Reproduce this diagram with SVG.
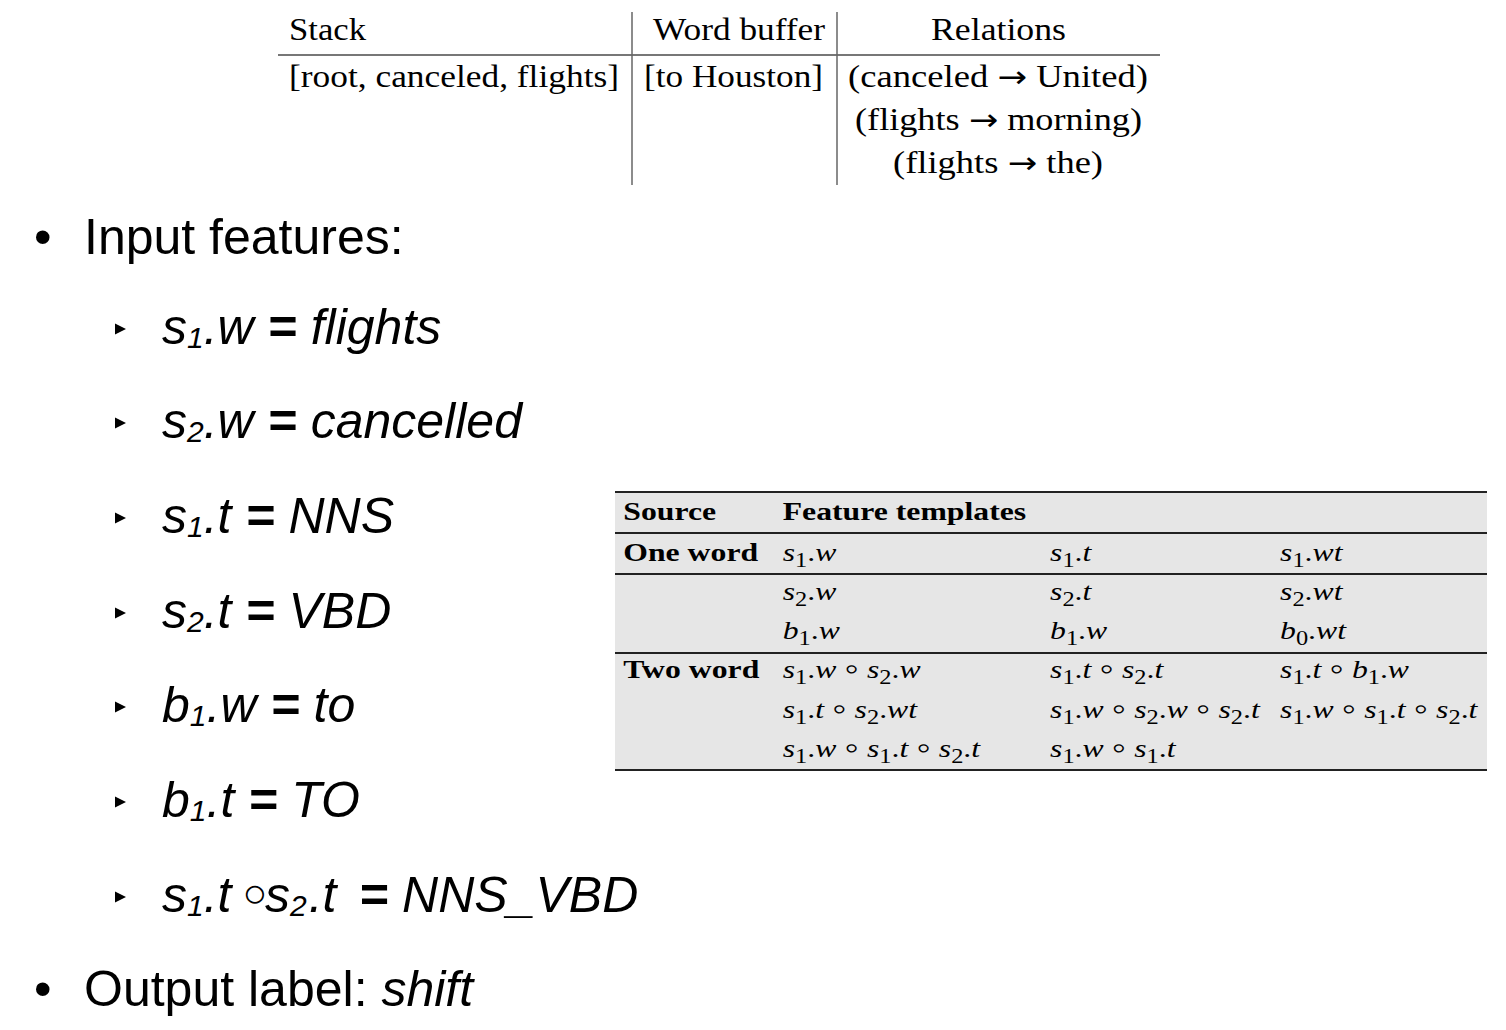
<svg xmlns="http://www.w3.org/2000/svg" width="1506" height="1030" viewBox="0 0 1506 1030">
<style>
.tt{font-family:"Liberation Serif","DejaVu Serif",serif;font-size:31px;fill:#000}
.arr{font-family:"DejaVu Sans",sans-serif;font-size:30px}
.ft{font-family:"Liberation Serif","DejaVu Serif",serif;font-size:26px;fill:#000}
.b{font-weight:bold}
.i{font-style:italic}
.sub{font-size:20px;font-style:normal}
.op{font-style:normal;font-size:34px}
.sans{font-family:"Liberation Sans",Arial,sans-serif;font-size:50px;fill:#000}
.si{font-style:italic}
.ss{font-size:30px}
.eq{font-weight:bold}
.circ{font-style:normal;font-size:41px;font-weight:normal}
.rule{stroke:#777;stroke-width:2}
.vrule{stroke:#666;stroke-width:1.5}
.frule{stroke:#222;stroke-width:2}
</style>
<defs>
<polygon id="tri" points="0,0 11,5.5 0,11"/>
</defs>
<rect width="1506" height="1030" fill="#fff"/>

<g id="state-table">
<line class="rule" x1="278" y1="55" x2="1160" y2="55"/>
<line class="vrule" x1="632" y1="12" x2="632" y2="185"/>
<line class="vrule" x1="837" y1="12" x2="837" y2="185"/>
<text class="tt" x="289" y="40" textLength="77" lengthAdjust="spacingAndGlyphs">Stack</text>
<text class="tt" x="653" y="40" textLength="172" lengthAdjust="spacingAndGlyphs">Word buffer</text>
<text class="tt" x="931" y="40" textLength="135" lengthAdjust="spacingAndGlyphs">Relations</text>
<text class="tt" x="289" y="87" textLength="330" lengthAdjust="spacingAndGlyphs">[root, canceled, flights]</text>
<text class="tt" x="644" y="87" textLength="179" lengthAdjust="spacingAndGlyphs">[to Houston]</text>
<text class="tt" x="848" y="87" textLength="300" lengthAdjust="spacingAndGlyphs">(canceled <tspan class="arr">→</tspan> United)</text>
<text class="tt" x="855" y="130" textLength="287" lengthAdjust="spacingAndGlyphs">(flights <tspan class="arr">→</tspan> morning)</text>
<text class="tt" x="893" y="173" textLength="210" lengthAdjust="spacingAndGlyphs">(flights <tspan class="arr">→</tspan> the)</text>
</g>

<g id="bullets">
<text class="sans" x="34" y="254">•</text>
<text class="sans" x="84" y="254">Input features:</text>

<use href="#tri" x="115" y="323.5"/>
<text class="sans si" x="162" y="344">s<tspan class="ss" dy="4">1</tspan><tspan dy="-4">.w </tspan><tspan class="eq">=</tspan> flights</text>

<use href="#tri" x="115" y="417.5"/>
<text class="sans si" x="162" y="438">s<tspan class="ss" dy="4">2</tspan><tspan dy="-4">.w </tspan><tspan class="eq">=</tspan> cancelled</text>

<use href="#tri" x="115" y="512.5"/>
<text class="sans si" x="162" y="533">s<tspan class="ss" dy="4">1</tspan><tspan dy="-4">.t </tspan><tspan class="eq">=</tspan> NNS</text>

<use href="#tri" x="115" y="607.5"/>
<text class="sans si" x="162" y="628">s<tspan class="ss" dy="4">2</tspan><tspan dy="-4">.t </tspan><tspan class="eq">=</tspan> VBD</text>

<use href="#tri" x="115" y="701.5"/>
<text class="sans si" x="162" y="722">b<tspan class="ss" dy="4">1</tspan><tspan dy="-4">.w </tspan><tspan class="eq">=</tspan> to</text>

<use href="#tri" x="115" y="796.5"/>
<text class="sans si" x="162" y="817">b<tspan class="ss" dy="4">1</tspan><tspan dy="-4">.t </tspan><tspan class="eq">=</tspan> TO</text>

<use href="#tri" x="115" y="891.5"/>
<text class="sans si" x="162" y="912">s<tspan class="ss" dy="4">1</tspan><tspan dy="-4">.t</tspan><tspan class="circ" x="242.5" dy="-5">○</tspan><tspan x="265" dy="5">s</tspan><tspan class="ss" dy="4">2</tspan><tspan dx="2" dy="-4">.t</tspan><tspan class="eq" x="359">=</tspan> NNS_VBD</text>

<text class="sans" x="34" y="1006">•</text>
<text class="sans" x="84" y="1006">Output label: <tspan class="si">shift</tspan></text>
</g>

<g id="feature-table">
<rect x="615" y="492" width="872" height="278" fill="#e6e6e6"/>
<line class="frule" x1="615" y1="492" x2="1487" y2="492"/>
<line class="frule" x1="615" y1="533" x2="1487" y2="533"/>
<line class="frule" x1="615" y1="574" x2="1487" y2="574"/>
<line class="frule" x1="615" y1="653" x2="1487" y2="653"/>
<line class="frule" x1="615" y1="770" x2="1487" y2="770"/>
<g transform="scale(1.22 1)">
<text class="ft b" x="510.9" y="520">Source</text>
<text class="ft b" x="641.6" y="520">Feature templates</text>
<text class="ft b" x="510.9" y="561">One word</text>
<text class="ft b" x="510.9" y="678">Two word</text>

<text class="ft" x="641.6" y="561"><tspan class="i">s</tspan><tspan class="sub" dy="6">1</tspan><tspan dy="-6">.</tspan><tspan class="i">w</tspan></text>
<text class="ft" x="860.7" y="561"><tspan class="i">s</tspan><tspan class="sub" dy="6">1</tspan><tspan dy="-6">.</tspan><tspan class="i">t</tspan></text>
<text class="ft" x="1049.2" y="561"><tspan class="i">s</tspan><tspan class="sub" dy="6">1</tspan><tspan dy="-6">.</tspan><tspan class="i">wt</tspan></text>

<text class="ft" x="641.6" y="600"><tspan class="i">s</tspan><tspan class="sub" dy="6">2</tspan><tspan dy="-6">.</tspan><tspan class="i">w</tspan></text>
<text class="ft" x="860.7" y="600"><tspan class="i">s</tspan><tspan class="sub" dy="6">2</tspan><tspan dy="-6">.</tspan><tspan class="i">t</tspan></text>
<text class="ft" x="1049.2" y="600"><tspan class="i">s</tspan><tspan class="sub" dy="6">2</tspan><tspan dy="-6">.</tspan><tspan class="i">wt</tspan></text>

<text class="ft" x="641.6" y="639"><tspan class="i">b</tspan><tspan class="sub" dy="6">1</tspan><tspan dy="-6">.</tspan><tspan class="i">w</tspan></text>
<text class="ft" x="860.7" y="639"><tspan class="i">b</tspan><tspan class="sub" dy="6">1</tspan><tspan dy="-6">.</tspan><tspan class="i">w</tspan></text>
<text class="ft" x="1049.2" y="639"><tspan class="i">b</tspan><tspan class="sub" dy="6">0</tspan><tspan dy="-6">.</tspan><tspan class="i">wt</tspan></text>

<text class="ft" x="641.6" y="678"><tspan class="i">s</tspan><tspan class="sub" dy="6">1</tspan><tspan dy="-6">.</tspan><tspan class="i">w</tspan><tspan class="op" dx="6.5" dy="2">◦</tspan><tspan class="i" dx="6.5" dy="-2">s</tspan><tspan class="sub" dy="6">2</tspan><tspan dy="-6">.</tspan><tspan class="i">w</tspan></text>
<text class="ft" x="860.7" y="678"><tspan class="i">s</tspan><tspan class="sub" dy="6">1</tspan><tspan dy="-6">.</tspan><tspan class="i">t</tspan><tspan class="op" dx="6.5" dy="2">◦</tspan><tspan class="i" dx="6.5" dy="-2">s</tspan><tspan class="sub" dy="6">2</tspan><tspan dy="-6">.</tspan><tspan class="i">t</tspan></text>
<text class="ft" x="1049.2" y="678"><tspan class="i">s</tspan><tspan class="sub" dy="6">1</tspan><tspan dy="-6">.</tspan><tspan class="i">t</tspan><tspan class="op" dx="6.5" dy="2">◦</tspan><tspan class="i" dx="6.5" dy="-2">b</tspan><tspan class="sub" dy="6">1</tspan><tspan dy="-6">.</tspan><tspan class="i">w</tspan></text>

<text class="ft" x="641.6" y="718"><tspan class="i">s</tspan><tspan class="sub" dy="6">1</tspan><tspan dy="-6">.</tspan><tspan class="i">t</tspan><tspan class="op" dx="6.5" dy="2">◦</tspan><tspan class="i" dx="6.5" dy="-2">s</tspan><tspan class="sub" dy="6">2</tspan><tspan dy="-6">.</tspan><tspan class="i">wt</tspan></text>
<text class="ft" x="860.7" y="718"><tspan class="i">s</tspan><tspan class="sub" dy="6">1</tspan><tspan dy="-6">.</tspan><tspan class="i">w</tspan><tspan class="op" dx="6.5" dy="2">◦</tspan><tspan class="i" dx="6.5" dy="-2">s</tspan><tspan class="sub" dy="6">2</tspan><tspan dy="-6">.</tspan><tspan class="i">w</tspan><tspan class="op" dx="6.5" dy="2">◦</tspan><tspan class="i" dx="6.5" dy="-2">s</tspan><tspan class="sub" dy="6">2</tspan><tspan dy="-6">.</tspan><tspan class="i">t</tspan></text>
<text class="ft" x="1049.2" y="718"><tspan class="i">s</tspan><tspan class="sub" dy="6">1</tspan><tspan dy="-6">.</tspan><tspan class="i">w</tspan><tspan class="op" dx="6.5" dy="2">◦</tspan><tspan class="i" dx="6.5" dy="-2">s</tspan><tspan class="sub" dy="6">1</tspan><tspan dy="-6">.</tspan><tspan class="i">t</tspan><tspan class="op" dx="6.5" dy="2">◦</tspan><tspan class="i" dx="6.5" dy="-2">s</tspan><tspan class="sub" dy="6">2</tspan><tspan dy="-6">.</tspan><tspan class="i">t</tspan></text>

<text class="ft" x="641.6" y="757"><tspan class="i">s</tspan><tspan class="sub" dy="6">1</tspan><tspan dy="-6">.</tspan><tspan class="i">w</tspan><tspan class="op" dx="6.5" dy="2">◦</tspan><tspan class="i" dx="6.5" dy="-2">s</tspan><tspan class="sub" dy="6">1</tspan><tspan dy="-6">.</tspan><tspan class="i">t</tspan><tspan class="op" dx="6.5" dy="2">◦</tspan><tspan class="i" dx="6.5" dy="-2">s</tspan><tspan class="sub" dy="6">2</tspan><tspan dy="-6">.</tspan><tspan class="i">t</tspan></text>
<text class="ft" x="860.7" y="757"><tspan class="i">s</tspan><tspan class="sub" dy="6">1</tspan><tspan dy="-6">.</tspan><tspan class="i">w</tspan><tspan class="op" dx="6.5" dy="2">◦</tspan><tspan class="i" dx="6.5" dy="-2">s</tspan><tspan class="sub" dy="6">1</tspan><tspan dy="-6">.</tspan><tspan class="i">t</tspan></text>
</g>
</g>
</svg>
